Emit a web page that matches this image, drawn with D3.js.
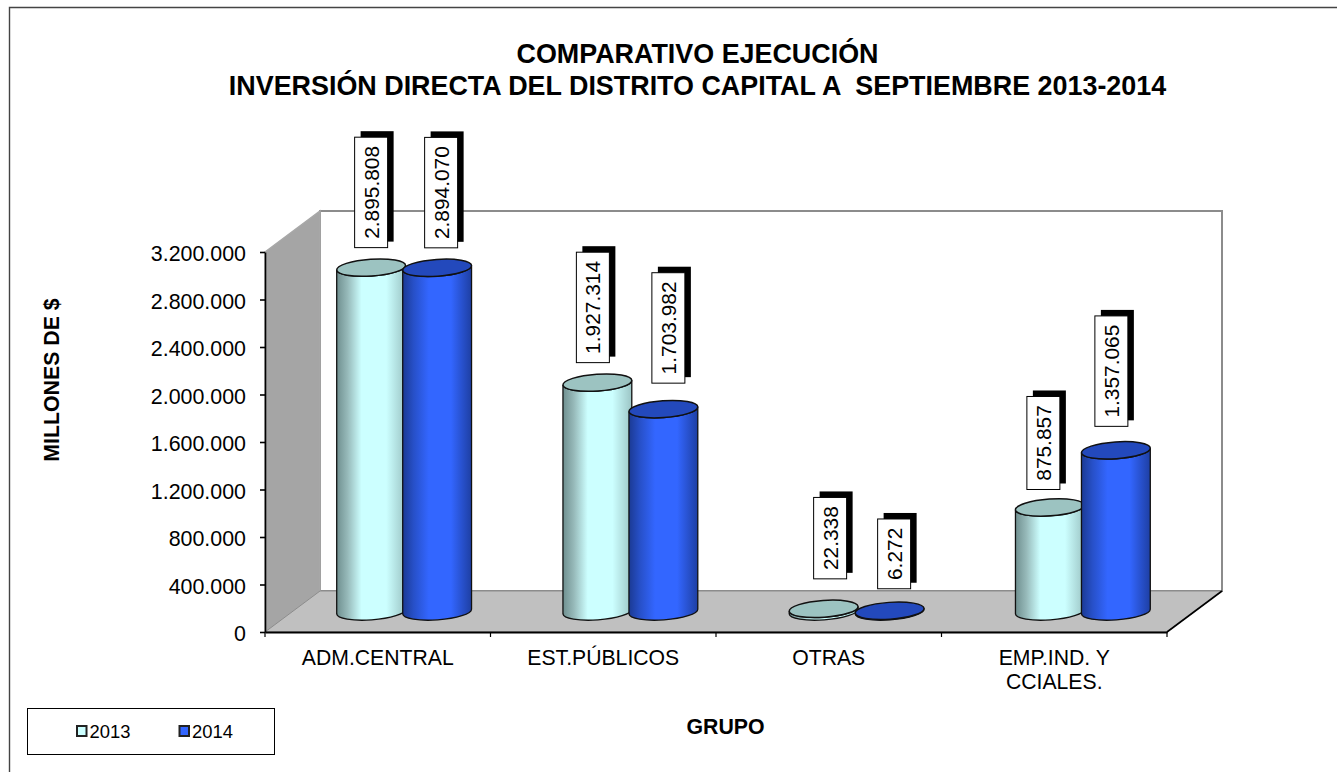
<!DOCTYPE html>
<html lang="es">
<head>
<meta charset="utf-8">
<title>Comparativo ejecución</title>
<script src="https://cdn.jsdelivr.net/npm/d3@7"></script>
<style>
html,body{margin:0;padding:0;background:#fff}
svg{display:block}
text{font-family:"Liberation Sans",Arial,sans-serif;fill:#000}
</style>
</head>
<body>
<svg id="chart" width="1337" height="772"></svg>
<script>
// ---------- data ----------
const categories = ["ADM.CENTRAL", "EST.PÚBLICOS", "OTRAS", "EMP.IND. Y\nCCIALES."];
const seriesNames = ["2013", "2014"];
const values2013 = [2895808, 1927314, 22338, 875857];
const values2014 = [2894070, 1703982, 6272, 1357065];
const yTicks = [0, 400000, 800000, 1200000, 1600000, 2000000, 2400000, 2800000, 3200000];
const titleLines = ["COMPARATIVO EJECUCIÓN", "INVERSIÓN DIRECTA DEL DISTRITO CAPITAL A  SEPTIEMBRE 2013-2014"];

// ---------- layout (hand-moved label offsets as in the original: [dx, gap above cylinder]) ----------
const labelNudge2013 = [[0, 20], [-4.5, 20], [6.5, 30], [-6.5, 18]];
const labelNudge2014 = [[4, 20], [5, 26], [4.5, 22], [-4.5, 24]];
const plot = {left: 265, right: 1167, top: 252, bottom: 632, depthX: 55, depthY: 41};
const cyl = {rx: 34.5, ry: 8.4, tilt: -4, shift: 26, lift: 20.5, step: 66};

const svg = d3.select("#chart");
const loc = d3.formatLocale({decimal: ",", thousands: ".", grouping: [3], currency: ["", ""]});
const fmt = loc.format(",d");

const y = d3.scaleLinear().domain([0, 3200000]).range([plot.bottom, plot.top]);
const xGroup = d3.scaleBand().domain(categories).range([plot.left, plot.right]);
const xCyl = d3.scaleBand().domain(categories).range([plot.left, plot.right + 3]);
const xSeries = d3.scaleBand().domain(seriesNames).range([-cyl.step, cyl.step]);

// ---------- gradients ----------
const defs = svg.append("defs");
function grad(id, stops) {
  const g = defs.append("linearGradient").attr("id", id).attr("x1", 0).attr("x2", 1).attr("y1", 0).attr("y2", 0);
  stops.forEach(([o, c]) => g.append("stop").attr("offset", o).attr("stop-color", c));
}
grad("g2013", [[0, "#6f8f8f"], [0.16, "#97baba"], [0.36, "#ccffff"], [0.72, "#ccffff"], [1, "#9cc5c5"]]);
grad("g2014", [[0, "#1b3a94"], [0.16, "#2750c8"], [0.38, "#3366ff"], [0.7, "#3366ff"], [1, "#1e3fa3"]]);
const seriesStyle = {
  "2013": {side: "url(#g2013)", top: "#9cc3c1", swatch: "#ccffff"},
  "2014": {side: "url(#g2014)", top: "#2349bc", swatch: "#3366ff"}
};

// ---------- frame ----------
svg.append("path").attr("d", "M9.5,772V7.5H1337").attr("fill", "none").attr("stroke", "#444").attr("stroke-width", 1.4);

// ---------- 3D box ----------
const {left: L, right: R, top: T, bottom: B, depthX: dx, depthY: dy} = plot;
svg.append("rect").attr("x", L + dx).attr("y", T - dy).attr("width", R - L).attr("height", B - T)
  .attr("fill", "#fff").attr("stroke", "#8c8c8c").attr("stroke-width", 2);
svg.append("polygon").attr("points", [[L, T], [L + dx, T - dy], [L + dx, B - dy], [L, B]].join(" "))
  .attr("fill", "#a5a5a5").attr("stroke", "#a8a8a8").attr("stroke-width", 1.5);
svg.append("polygon").attr("points", [[L, B], [L + dx, B - dy], [R + dx, B - dy], [R, B]].join(" "))
  .attr("fill", "#c0c0c0").attr("stroke", "#8c8c8c").attr("stroke-width", 1);
svg.append("path").attr("d", `M${R},${B}L${R + dx},${B - dy}`).attr("stroke", "#000").attr("stroke-width", 1.6);

// ---------- cylinders ----------
const rad = cyl.tilt * Math.PI / 180;
const ex = cyl.rx * Math.cos(rad), ey = cyl.rx * Math.sin(rad);
function cylinderPath(cx, yTop, yBase) {
  return `M${cx - ex},${yTop - ey}L${cx - ex},${yBase - ey}` +
    `A${cyl.rx},${cyl.ry} ${cyl.tilt} 0 0 ${cx + ex},${yBase + ey}` +
    `L${cx + ex},${yTop + ey}` +
    `A${cyl.rx},${cyl.ry} ${cyl.tilt} 0 1 ${cx - ex},${yTop - ey}Z`;
}
const rows = [];
categories.forEach((c, i) => {
  seriesNames.forEach((s, k) => {
    const v = (k === 0 ? values2013 : values2014)[i];
    const nudge = (k === 0 ? labelNudge2013 : labelNudge2014)[i];
    rows.push({c, s, v, nudge,
      cx: xCyl(c) + xCyl.bandwidth() / 2 + cyl.shift + xSeries(s) + xSeries.bandwidth() / 2,
      yTop: y(v) - cyl.lift, yBase: y(0) - cyl.lift});
  });
});
const marks = svg.append("g").selectAll("g").data(rows).join("g");
marks.append("path").attr("d", d => cylinderPath(d.cx, d.yTop, d.yBase))
  .attr("fill", d => seriesStyle[d.s].side).attr("stroke", "#111").attr("stroke-width", 1.3);
marks.append("ellipse").attr("rx", cyl.rx).attr("ry", cyl.ry)
  .attr("transform", d => `translate(${d.cx},${d.yTop}) rotate(${cyl.tilt})`)
  .attr("fill", d => seriesStyle[d.s].top).attr("stroke", "#111").attr("stroke-width", 1.5);

// ---------- axes ----------
const yAxis = d3.axisLeft(y).tickValues(yTicks).tickFormat(v => fmt(v)).tickSize(5).tickSizeOuter(0).tickPadding(14);
const gy = svg.append("g").attr("transform", `translate(${L},0)`).call(yAxis);
gy.selectAll("text").attr("font-size", 21.4).attr("fill", "#000").attr("font-family", "Liberation Sans").attr("dy", "0.4em");
gy.selectAll("line,path").attr("stroke", "#000").attr("stroke-width", 1.6);

const xAxis = d3.axisBottom(xGroup).tickSize(0).tickSizeOuter(0).tickFormat("");
const gx = svg.append("g").attr("transform", `translate(0,${B})`).call(xAxis);
gx.selectAll("path").attr("stroke", "#000").attr("stroke-width", 2);
gx.selectAll(".tick text").remove();
gx.selectAll(".tick").each(function (d) {
  const t = d3.select(this).append("text").attr("text-anchor", "middle").attr("font-size", 21.2).attr("fill", "#000");
  d.split("\n").forEach((line, i) => t.append("tspan").attr("x", 0).attr("y", 33 + i * 24).text(line));
});
const edges = categories.map(c => xGroup(c)).concat(R);
svg.append("g").selectAll("line").data(edges).join("line")
  .attr("x1", d => d).attr("x2", d => d).attr("y1", B).attr("y2", B + 5)
  .attr("stroke", "#000").attr("stroke-width", 1.2);

// ---------- value labels ----------
const labels = svg.append("g").selectAll("g").data(rows).join("g")
  .attr("transform", d => `translate(${d.cx + d.nudge[0]},${d.yTop - d.nudge[1]})`);
const boxW = 33;
labels.each(function (d) {
  const g = d3.select(this);
  const shadow = g.append("rect"), box = g.append("rect");
  const t = g.append("text").attr("font-size", 20.9).attr("text-anchor", "middle").text(fmt(d.v));
  const h = t.node().getComputedTextLength() + 17.5;
  t.attr("transform", `translate(7.5,${-h / 2}) rotate(-90)`);
  shadow.attr("x", -boxW / 2 + 6).attr("y", -h - 6).attr("width", boxW).attr("height", h).attr("fill", "#000");
  box.attr("x", -boxW / 2).attr("y", -h).attr("width", boxW).attr("height", h)
    .attr("fill", "#fff").attr("stroke", "#000").attr("stroke-width", 1);
});

// ---------- titles ----------
const title = svg.append("text").attr("text-anchor", "middle").attr("font-weight", "bold").attr("font-size", 26.9);
titleLines.forEach((line, i) => title.append("tspan").attr("x", 697.5).attr("y", 63 + i * 32).style("white-space", "pre").text(line));
svg.append("text").attr("transform", "translate(59,380) rotate(-90)").attr("text-anchor", "middle")
  .attr("font-weight", "bold").attr("font-size", 21.3).text("MILLONES DE $");
svg.append("text").attr("x", 725.5).attr("y", 734).attr("text-anchor", "middle")
  .attr("font-weight", "bold").attr("font-size", 21.3).text("GRUPO");

// ---------- legend ----------
svg.append("rect").attr("x", 27.5).attr("y", 708.5).attr("width", 247).attr("height", 46)
  .attr("fill", "#fff").attr("stroke", "#000").attr("stroke-width", 1);
const legend = svg.append("g").selectAll("g").data(seriesNames).join("g")
  .attr("transform", (d, i) => `translate(${77 + i * 102.5},726)`);
legend.append("rect").attr("width", 9.5).attr("height", 10)
  .attr("fill", d => seriesStyle[d].swatch).attr("stroke", "#222").attr("stroke-width", 2);
legend.append("text").attr("x", 12.5).attr("y", 12).attr("font-size", 18.4).text(d => d);
</script>
</body>
</html>
